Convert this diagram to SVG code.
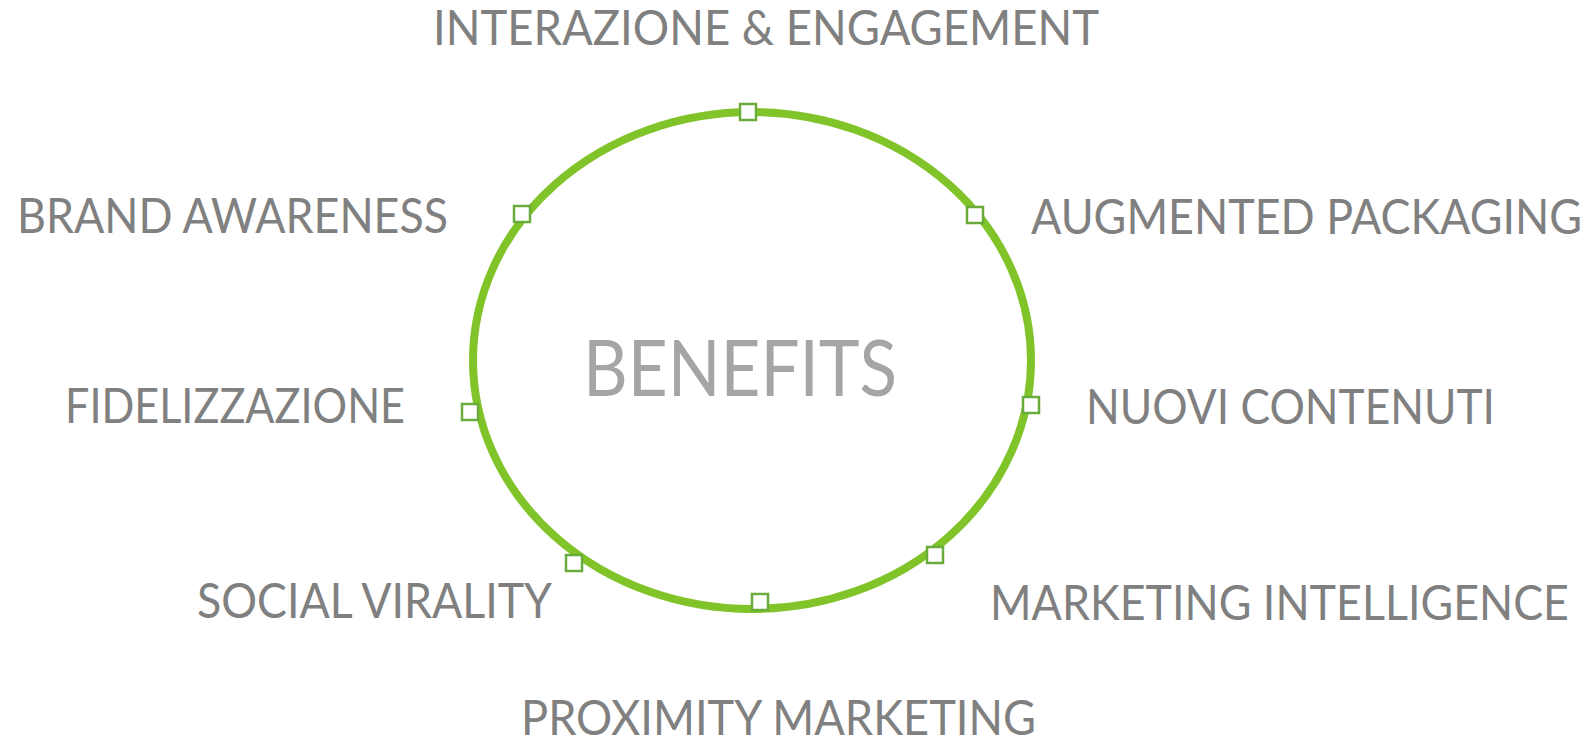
<svg xmlns="http://www.w3.org/2000/svg" width="1593" height="739" viewBox="0 0 1593 739">
<style>
.lbl{font-family:Lato,"Open Sans","Liberation Sans",sans-serif;font-size:47.5px;fill:#808080}
.title{font-family:Lato,"Open Sans","Liberation Sans",sans-serif;font-size:78px;fill:#a5a5a5}
.pt{fill:#ffffff;stroke:#6aac3c;stroke-width:2.5}
</style>
<rect width="1593" height="739" fill="#ffffff"/>
<g id="connectors">
<ellipse cx="752" cy="360.5" rx="279" ry="248.5" fill="none" stroke="#80c42a" stroke-width="8"/>
</g>
<g id="center"><text class="title" x="583" y="396" textLength="314" lengthAdjust="spacingAndGlyphs">BENEFITS</text></g>
<g id="n-interazione"><rect class="pt" x="740" y="104" width="16" height="16"/><text class="lbl" x="433" y="45" textLength="666" lengthAdjust="spacingAndGlyphs">INTERAZIONE &amp; ENGAGEMENT</text></g>
<g id="n-augmented"><rect class="pt" x="967" y="207" width="16" height="16"/><text class="lbl" x="1031" y="234" textLength="551" lengthAdjust="spacingAndGlyphs">AUGMENTED PACKAGING</text></g>
<g id="n-nuovi"><rect class="pt" x="1023" y="397" width="16" height="16"/><text class="lbl" x="1086" y="424" textLength="409" lengthAdjust="spacingAndGlyphs">NUOVI CONTENUTI</text></g>
<g id="n-marketing-int"><rect class="pt" x="927" y="547" width="16" height="16"/><text class="lbl" x="990" y="620" textLength="579" lengthAdjust="spacingAndGlyphs">MARKETING INTELLIGENCE</text></g>
<g id="n-proximity"><rect class="pt" x="752" y="594" width="16" height="16"/><text class="lbl" x="521" y="735" textLength="515" lengthAdjust="spacingAndGlyphs">PROXIMITY MARKETING</text></g>
<g id="n-social"><rect class="pt" x="566" y="555" width="16" height="16"/><text class="lbl" x="197" y="618" textLength="355" lengthAdjust="spacingAndGlyphs">SOCIAL VIRALITY</text></g>
<g id="n-fidelizzazione"><rect class="pt" x="462" y="404" width="16" height="16"/><text class="lbl" x="65" y="423" textLength="340" lengthAdjust="spacingAndGlyphs">FIDELIZZAZIONE</text></g>
<g id="n-brand"><rect class="pt" x="514" y="206" width="16" height="16"/><text class="lbl" x="17" y="233" textLength="431" lengthAdjust="spacingAndGlyphs">BRAND AWARENESS</text></g>
</svg>
